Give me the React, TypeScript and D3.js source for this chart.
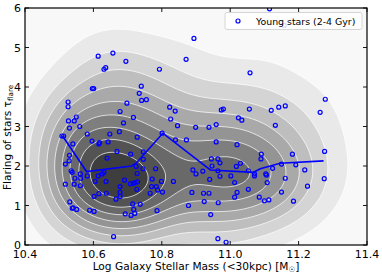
import * as d3 from "d3"

// scatter points: log stellar mass vs flaring
const massX = [
  11.115, 11.158, 10.894, 10.614, 10.657, 10.695, 10.871, 10.631, 10.636, 10.793,
  11.058, 10.597, 10.601, 10.74, 10.734, 10.741, 10.755, 10.698, 10.526, 10.526,
  10.527, 10.55, 10.544, 10.56, 10.53, 10.678, 10.717, 10.688, 10.676, 10.648,
  10.582, 10.596, 10.616, 10.618, 10.643, 10.728, 10.54, 10.508, 10.513, 10.669,
  10.709, 10.746, 10.746, 10.64, 10.53, 10.529, 10.518, 10.535, 10.538, 10.562,
  10.563, 10.582, 10.546, 10.518, 10.544, 10.562, 10.605, 10.614, 10.626, 10.631,
  10.637, 10.616, 10.602, 10.638, 10.666, 10.678, 10.678, 10.678, 10.691, 10.725,
  10.728, 10.729, 10.722, 10.716, 10.708, 10.727, 10.745, 10.782, 10.772, 10.77,
  10.784, 10.766, 10.788, 10.799, 10.802, 10.786, 10.737, 10.715, 10.718, 10.721,
  10.71, 10.693, 10.589, 10.602, 10.531, 10.538, 10.541, 10.551, 10.659, 10.834,
  10.823, 10.839, 10.826, 10.846, 10.801, 10.84, 10.872, 10.899, 10.938, 10.959,
  10.974, 10.98, 10.959, 11.024, 11.034, 11.02, 11.056, 11.12, 11.132, 11.142,
  11.161, 11.263, 11.278, 10.878, 10.888, 10.891, 10.9, 10.92, 10.922, 10.924,
  10.938, 10.94, 10.943, 10.945, 10.947, 10.964, 10.964, 10.97, 10.97, 10.965,
  10.964, 10.988, 11.002, 11.013, 11.018, 11.03, 11.02, 11.013, 11.053, 11.053,
  11.071, 11.071, 11.09, 11.091, 11.085, 11.1, 11.113, 11.104, 11.106, 11.108,
  11.124, 11.15, 11.15, 11.161, 11.182, 11.192, 11.185, 11.218, 11.226, 11.276,
  11.275,
]
const flare = [
  5.98, 5.56, 5.23, 4.78, 4.86, 4.65, 4.7, 4.45, 4.49, 4.45,
  4.36, 3.96, 3.96, 4.02, 3.84, 3.66, 3.68, 3.59, 3.62, 3.5,
  3.14, 3.24, 3.14, 3.0, 2.96, 3.38, 3.23, 3.09, 2.87, 2.81,
  2.81, 2.63, 2.56, 2.59, 2.61, 2.73, 2.56, 2.76, 2.76, 2.37,
  2.3, 2.36, 2.17, 2.2, 2.27, 2.13, 2.05, 1.88, 1.84, 1.8,
  1.69, 1.75, 1.69, 1.54, 1.54, 1.5, 1.61, 1.75, 1.8, 1.84,
  1.61, 1.3, 1.23, 1.31, 1.16, 1.48, 1.33, 1.23, 1.64, 1.99,
  1.81, 1.6, 1.58, 1.56, 1.55, 1.41, 1.93, 1.93, 1.67, 1.48,
  1.48, 1.31, 1.39, 1.61, 1.34, 0.87, 1.03, 1.04, 0.9, 0.8,
  0.75, 0.79, 0.88, 0.85, 1.09, 0.93, 0.94, 0.9, 0.21, 1.61,
  3.49, 3.39, 3.19, 3.02, 2.83, 2.66, 2.66, 2.98, 2.98, 3.05,
  3.42, 3.44, 2.61, 3.22, 3.16, 2.54, 3.44, 3.41, 3.03, 3.49,
  3.52, 3.36, 3.69, 1.0, 1.33, 1.9, 1.8, 1.87, 1.31, 1.1,
  1.31, 1.66, 0.77, 2.18, 2.0, 1.88, 2.18, 2.08, 1.74, 1.07,
  0.16, 0.07, 1.75, 1.58, 1.99, 2.07, 1.33, 1.21, 1.88, 1.41,
  1.8, 1.75, 2.18, 2.3, 1.21, 1.12, 1.14, 1.8, 1.77, 1.58,
  1.94, 2.05, 1.34, 1.69, 2.3, 2.03, 1.11, 1.9, 1.49, 2.37,
  1.68,
]

// binned median line
const medX = [10.51, 10.58, 10.712, 10.725, 10.803, 10.942, 11.068, 11.088, 11.146, 11.273]
const medY = [2.76, 1.86, 2.0, 2.07, 2.83, 1.9, 1.84, 1.93, 2.07, 2.13]

const xTicks = [10.4, 10.6, 10.8, 11.0, 11.2, 11.4]
const yTicks = [0, 1, 2, 3, 4, 5, 6]
const levelFracs = [0.1, 0.2, 0.3, 0.4, 0.5, 0.6, 0.7, 0.8, 0.9]

const W = 382
const H = 274
const m = { left: 25, right: 367, top: 8, bottom: 245 }
const font = "DejaVu Sans, sans-serif"

export default function App() {
  const x = d3.scaleLinear().domain([10.4, 11.4]).range([m.left, m.right])
  const y = d3.scaleLinear().domain([0, 6]).range([m.bottom, m.top])

  // gaussian kde, scott bandwidth per axis (y widened to match the smooth look)
  const n = massX.length
  const f = Math.pow(n, -1 / 6)
  const hx = (d3.deviation(massX) ?? 0.2) * f * 1.05
  const hy = (d3.deviation(flare) ?? 1) * f * 1.8
  const step = 2
  const pad = 20
  const x0 = m.left - pad
  const y0 = m.top - pad
  const nx = Math.ceil((m.right - m.left + 2 * pad) / step)
  const ny = Math.ceil((m.bottom - m.top + 2 * pad) / step)
  const grid = new Float64Array(nx * ny)
  for (let j = 0; j < ny; j++) {
    const gy = y.invert(y0 + j * step)
    for (let i = 0; i < nx; i++) {
      const gx = x.invert(x0 + i * step)
      let s = 0
      for (let k = 0; k < n; k++) {
        const dx = (gx - massX[k]) / hx
        const dy = (gy - flare[k]) / hy
        s += Math.exp(-0.5 * (dx * dx + dy * dy))
      }
      grid[j * nx + i] = s
    }
  }
  const maxD = d3.max(grid) ?? 1
  const contours = d3
    .contours()
    .size([nx, ny])
    .thresholds(levelFracs.map((t) => t * maxD))(Array.from(grid))
  const path = d3.geoPath(
    d3.geoTransform({
      point(px, py) {
        this.stream.point(x0 + px * step, y0 + py * step)
      },
    })
  )
  const gray = d3.interpolateRgb("#e9e9e9", "#3e3e3e")

  const line = d3
    .line<number>()
    .x((_, i) => x(medX[i]))
    .y((_, i) => y(medY[i]))

  return (
    <div style={{ position: "fixed", left: 0, top: 0 }}>
      <svg width={W} height={H} style={{ display: "block", background: "#fff" }}>
        <defs>
          <clipPath id="ax">
            <rect x={m.left} y={m.top} width={m.right - m.left} height={m.bottom - m.top} />
          </clipPath>
        </defs>
        <rect x={m.left} y={m.top} width={m.right - m.left} height={m.bottom - m.top} fill="#f8f8f8" />
        <g clipPath="url(#ax)">
          {contours.map((c, i) => (
            <path
              key={i}
              d={path(c) ?? ""}
              fill={gray(i / (contours.length - 1))}
              stroke="#fff"
              strokeWidth={0.7}
            />
          ))}
          <path d={line(medX) ?? ""} fill="none" stroke="#0000ff" strokeWidth={1.6} />
          {massX.map((mx, i) => (
            <circle
              key={i}
              cx={x(mx)}
              cy={y(flare[i])}
              r={2}
              fill="none"
              stroke="#0000ff"
              strokeWidth={1.2}
            />
          ))}
        </g>
        {/* frame + inward ticks */}
        <rect
          x={m.left}
          y={m.top}
          width={m.right - m.left}
          height={m.bottom - m.top}
          fill="none"
          stroke="#000"
          strokeWidth={1.2}
        />
        {xTicks.map((t) => (
          <g key={t}>
            <line x1={x(t)} x2={x(t)} y1={m.bottom} y2={m.bottom - 4} stroke="#000" strokeWidth={0.9} />
            <line x1={x(t)} x2={x(t)} y1={m.top} y2={m.top + 4} stroke="#000" strokeWidth={0.9} />
            <text x={x(t)} y={258} textAnchor="middle" fontSize={11} fontFamily={font}>
              {t.toFixed(1)}
            </text>
          </g>
        ))}
        {yTicks.map((t) => (
          <g key={t}>
            <line x1={m.left} x2={m.left + 4} y1={y(t)} y2={y(t)} stroke="#000" strokeWidth={0.9} />
            <line x1={m.right} x2={m.right - 4} y1={y(t)} y2={y(t)} stroke="#000" strokeWidth={0.9} />
            <text x={21} y={y(t) + 4} textAnchor="end" fontSize={11} fontFamily={font}>
              {t}
            </text>
          </g>
        ))}
        <text x={(m.left + m.right) / 2} y={270} textAnchor="middle" fontSize={10.6} fontFamily={font}>
          Log Galaxy Stellar Mass (&lt;30kpc) [M<tspan fontSize={7.5} dy={2}>☉</tspan>
          <tspan dy={-2}>]</tspan>
        </text>
        <text x={11} y={190} transform="rotate(-90 11 190)" fontSize={10.6} fontFamily={font}>
          Flaring of stars τ<tspan fontSize={7.2} dy={2}>flare</tspan>
        </text>
        {/* legend */}
        <rect x={225} y={12.5} width={137} height={17} rx={2} fill="#fff" fillOpacity={0.85} stroke="#ccc" strokeWidth={0.8} />
        <circle cx={238} cy={21} r={2} fill="none" stroke="#0000ff" strokeWidth={1.2} />
        <text x={256} y={24.5} fontSize={9.4} fontFamily={font}>
          Young stars (2-4 Gyr)
        </text>
      </svg>
    </div>
  )
}
